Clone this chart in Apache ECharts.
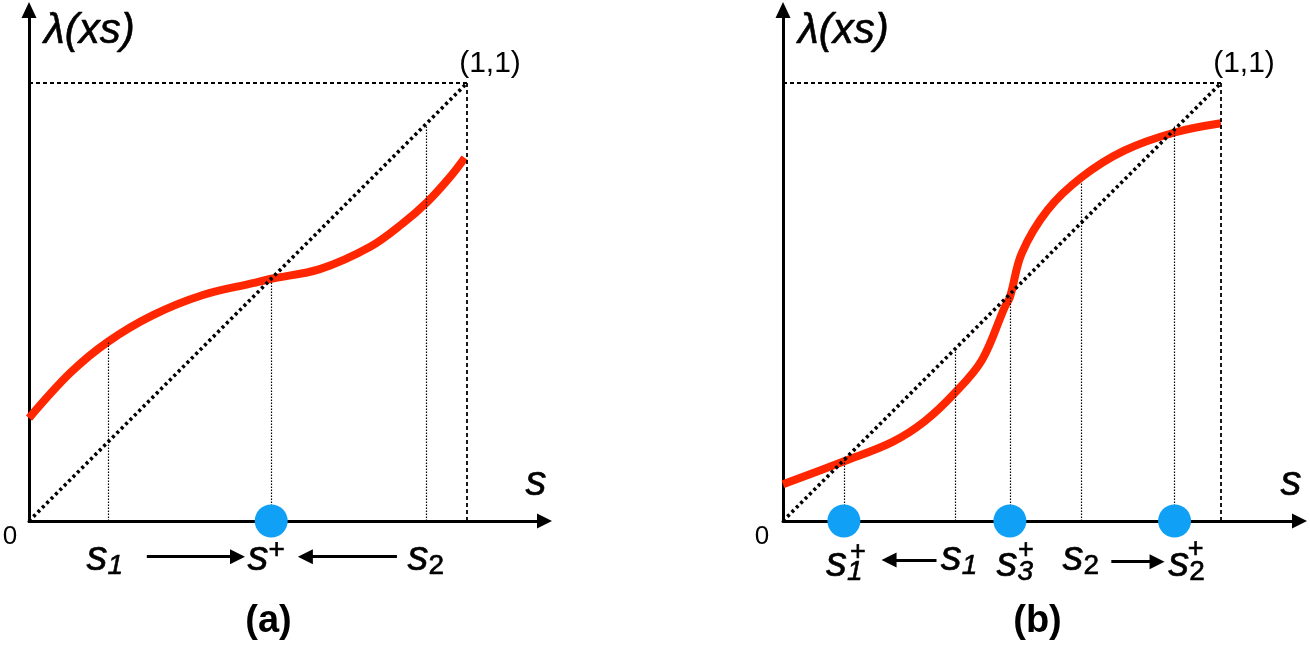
<!DOCTYPE html>
<html><head><meta charset="utf-8">
<script src="https://cdn.jsdelivr.net/npm/echarts@6/dist/echarts.min.js"></script>
<style>html,body{margin:0;padding:0;background:#fff}#c{width:1310px;height:646px}</style>
</head><body><div id="c"></div>
<script>
// ---------- Panel (a) data ----------
const curveA_s = [0, 0.094, 0.18, 0.283, 0.397, 0.511, 0.553, 0.664, 0.779, 0.854, 0.909, 0.961, 0.995];
const curveA_v = [0.235, 0.338, 0.409, 0.470, 0.516, 0.543, 0.553, 0.575, 0.626, 0.680, 0.728, 0.785, 0.829];
const fixedA = [0.553];                       // s+
const vertA_s = [0.18, 0.553, 0.908];         // s1, s+, s2
const vertA_top = [0.409, 0.553, 0.904];
const arrowsA = [[0.269, 0.476, -0.0815], [0.840, 0.631, -0.0815]];

// ---------- Panel (b) data ----------
const curveB_s = [0, 0.141, 0.249, 0.324, 0.392, 0.454, 0.506, 0.518, 0.545, 0.604, 0.682, 0.780, 0.894, 1.0];
const curveB_v = [0.084, 0.137, 0.180, 0.228, 0.292, 0.367, 0.488, 0.511, 0.611, 0.710, 0.785, 0.846, 0.887, 0.908];
const fixedB = [0.139, 0.518, 0.894];         // s1+, s3+, s2+
const vertB_s = [0.139, 0.393, 0.518, 0.680, 0.894];   // s1+, s1, s3+, s2, s2+
const vertB_top = [0.139, 0.392, 0.513, 0.774, 0.903];
const arrowsB = [[0.3505, 0.2422, -0.089], [0.7496, 0.854, -0.093]];

// axis texts
const yName = 'λ(xs)';
const xName = 's';
const cornerText = '(1,1)';
const originText = '0';
const panelTitles = ['(a)', '(b)'];

const RED = '#ff2600', BLUE = '#10a0f5', FONT = "'Liberation Sans', Arial, sans-serif";
const UNIT = 438;

const TB = {textBorderColor: '#000', textBorderWidth: 0.6};
const NB = {textBorderColor: 'transparent', textBorderWidth: 0};
const rich = {
  s: Object.assign({fontSize: 42, fontStyle: 'italic', fontFamily: FONT, color: '#000', lineHeight: 44, verticalAlign: 'middle'}, TB),
  subI: Object.assign({fontSize: 28, fontStyle: 'italic', fontFamily: FONT, color: '#000', lineHeight: 28, verticalAlign: 'bottom'}, TB),
  subU: Object.assign({fontSize: 28, fontFamily: FONT, color: '#000', lineHeight: 28, verticalAlign: 'bottom'}, TB),
  sup: Object.assign({fontSize: 28, fontFamily: FONT, color: '#000', lineHeight: 40, verticalAlign: 'top'}, TB),
  plus: Object.assign({fontSize: 27, fontFamily: FONT, color: '#000'}, TB),
  ax: Object.assign({fontSize: 42, fontStyle: 'italic', fontFamily: FONT, color: '#000'}, TB),
  corner: Object.assign({fontSize: 30, fontFamily: FONT, color: '#000'}, NB)
};

function lbl(value, text, offset) {
  return {value: value, label: {show: true, position: 'inside', formatter: text, offset: offset, rich: rich,
    color: '#000', opacity: 1, textShadowBlur: 0}};
}
function plain(value, text, offset, size) {
  return {value: value, label: {show: true, position: 'inside', formatter: text, offset: offset,
    color: '#000', opacity: 1, fontSize: size, fontFamily: FONT, textBorderWidth: 0, textShadowBlur: 0}};
}

const grids = [
  {left: 29, top: 10, width: 515.5, height: 511},
  {left: 783, top: 10, width: 516.5, height: 511}
];

const labelsA = [
  plain([0, 0], originText, [-19, 16], 26),
  lbl([1, 1], '{corner|' + cornerText + '}', [23, -19]),
  lbl([grids[0].width / UNIT, 0], '{ax|' + xName + '}', [-8.5, -38]),
  lbl([vertA_s[0], 0], '{s|s}{subI|1}', [-3, 37]),
  lbl([fixedA[0], 0], '{s|s}{sup|+}', [-5, 37]),
  lbl([vertA_s[2], 0], '{s|s}{subU|2}', [-1, 37])
];
const labelsB = [
  plain([0, 0], originText, [-21, 16], 26),
  lbl([1, 1], '{corner|' + cornerText + '}', [23, -19]),
  lbl([grids[1].width / UNIT, 0], '{ax|' + xName + '}', [-8.5, -38]),
  lbl([fixedB[0], 0], '{s|s}{subI|1}', [0.5, 43]),
  lbl([fixedB[0], 0], '{plus|+}', [14, 31.5]),
  lbl([vertB_s[1], 0], '{s|s}{subI|1}', [4, 37]),
  lbl([fixedB[1], 0], '{s|s}{subI|3}', [5, 43]),
  lbl([fixedB[1], 0], '{plus|+}', [16, 30]),
  lbl([vertB_s[3], 0], '{s|s}{subU|2}', [0, 37]),
  lbl([fixedB[2], 0], '{s|s}{subU|2}', [12, 43]),
  lbl([fixedB[2], 0], '{plus|+}', [21, 28.5])
];

function xAxisDef(i) {
  return {
    gridIndex: i, type: 'value', min: 0, max: grids[i].width / UNIT,
    axisLine: {show: true, onZero: false, symbol: ['none', 'triangle'], symbolSize: [15, 15], lineStyle: {color: '#000', width: 3}},
    axisTick: {show: false}, axisLabel: {show: false}, splitLine: {show: false}
  };
}
function yAxisDef(i) {
  return {
    gridIndex: i, type: 'value', min: 0, max: grids[i].height / UNIT,
    axisLine: {show: true, onZero: false, symbol: ['none', 'triangle'], symbolSize: [15, 16], lineStyle: {color: '#000', width: 3}},
    axisTick: {show: false}, axisLabel: {show: false}, splitLine: {show: false},
    name: yName, nameLocation: 'end', nameGap: -21,
    nameTextStyle: Object.assign({fontSize: 42, fontStyle: 'italic', fontFamily: FONT, color: '#000', align: 'left', verticalAlign: 'middle', padding: [0, 0, 0, 15]}, TB)
  };
}

function panelSeries(i, cs, cv, fixed, vs, vt, arrows, labels) {
  const ax = {xAxisIndex: i, yAxisIndex: i};
  return [
    Object.assign({type: 'line', data: [], silent: true, z: 1,
      markLine: {silent: true, symbol: 'none', animation: false, label: {show: false},
        lineStyle: {color: '#000', width: 1.2, type: [1.5, 1.5]},
        data: vs.map((s, k) => [{coord: [s, 0]}, {coord: [s, vt[k]]}])}}, ax),
    Object.assign({type: 'line', data: [], silent: true, z: 1,
      markLine: {silent: true, symbol: 'none', animation: false, label: {show: false},
        lineStyle: {color: '#000', width: 1.8, type: [4, 3]},
        data: [[{coord: [0, 1]}, {coord: [1, 1]}], [{coord: [1, 0]}, {coord: [1, 1]}]]}}, ax),
    Object.assign({type: 'line', data: cs.map((s, k) => [s, cv[k]]), smooth: 0.35,
      showSymbol: false, clip: false, silent: true, z: 3,
      lineStyle: {color: RED, width: 8, cap: 'butt'}}, ax),
    Object.assign({type: 'line', data: [[0, 0], [1, 1]], showSymbol: false, clip: false, silent: true, z: 4,
      lineStyle: {color: '#000', width: 3.6, type: [3, 3.2], cap: 'butt'}}, ax),
    Object.assign({type: 'scatter', data: fixed.map(s => [s, 0]), symbolSize: 33, clip: false, silent: true, z: 5,
      itemStyle: {color: BLUE, opacity: 1}}, ax),
    Object.assign({type: 'lines', coordinateSystem: 'cartesian2d', clip: false, silent: true, z: 5,
      symbol: ['none', 'triangle'], symbolSize: 15,
      lineStyle: {color: '#000', width: 3, opacity: 1, curveness: 0},
      itemStyle: {color: '#000'},
      data: arrows.map(a => ({coords: [[a[0], a[2]], [a[1], a[2]]]}))}, ax),
    Object.assign({type: 'scatter', data: labels, symbolSize: 0, clip: false, silent: true, z: 6,
      itemStyle: {color: '#000', opacity: 1}}, ax)
  ];
}

const chart = echarts.init(document.getElementById('c'), null, {renderer: 'canvas'});
chart.setOption({
  animation: false,
  backgroundColor: '#fff',
  title: [
    {text: panelTitles[0], left: 268.5, top: 602, textAlign: 'center', padding: 0,
      textStyle: {fontSize: 38, fontWeight: 'bold', fontFamily: FONT, color: '#000', lineHeight: 40}},
    {text: panelTitles[1], left: 1037.5, top: 602, textAlign: 'center', padding: 0,
      textStyle: {fontSize: 38, fontWeight: 'bold', fontFamily: FONT, color: '#000', lineHeight: 40}}
  ],
  grid: grids.map(g => Object.assign({containLabel: false, outerBoundsMode: 'none'}, g)),
  xAxis: [xAxisDef(0), xAxisDef(1)],
  yAxis: [yAxisDef(0), yAxisDef(1)],
  series: [].concat(
    panelSeries(0, curveA_s, curveA_v, fixedA, vertA_s, vertA_top, arrowsA, labelsA),
    panelSeries(1, curveB_s, curveB_v, fixedB, vertB_s, vertB_top, arrowsB, labelsB)
  )
});
</script></body></html>
